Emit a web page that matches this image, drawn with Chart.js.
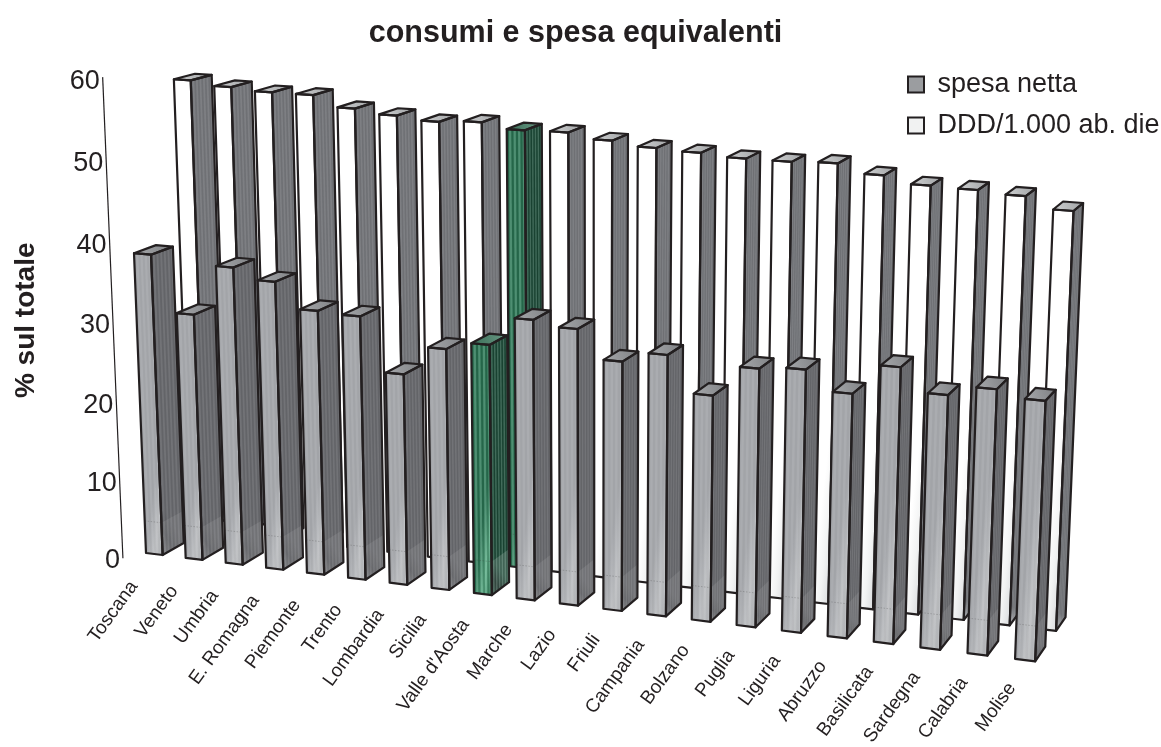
<!DOCTYPE html>
<html>
<head>
<meta charset="utf-8">
<title>consumi e spesa equivalenti</title>
<style>
  html, body { margin: 0; padding: 0; background: #fff; }
  canvas { display: block; }
</style>
<script src="https://cdn.jsdelivr.net/npm/chart.js@4/dist/chart.umd.min.js"></script>
</head>
<body>
<canvas id="chart" width="1161" height="747"></canvas>
<script>
const regions = ['Toscana', 'Veneto', 'Umbria', 'E. Romagna', 'Piemonte', 'Trento', 'Lombardia', 'Sicilia',
    "Valle d'Aosta", 'Marche', 'Lazio', 'Friuli', 'Campania', 'Bolzano', 'Puglia', 'Liguria', 'Abruzzo',
    'Basilicata', 'Sardegna', 'Calabria', 'Molise'];
const spesaNetta = [38.2, 31.2, 37.5, 36.2, 33.1, 32.9, 26.3, 29.9, 30.9, 34.4, 33.8, 30.4, 31.7, 27.4, 31.1,
    31.5, 29.2, 32.8, 30.1, 31.3, 30.5];
const dddAbDie = [58.0, 57.5, 57.2, 57.2, 55.9, 55.4, 55.0, 55.3, 54.7, 54.8, 54.2, 53.7, 53.5, 53.2, 53.2,
    53.4, 52.4, 51.6, 51.5, 51.2, 49.9];
const highlighted = ["Valle d'Aosta"];
const valueTicks = [0, 10, 20, 30, 40, 50, 60];

const INK = '#231f20';
const FONT = '"Liberation Sans", Arial, sans-serif';

// perspective: canvas position of the origin, plus strength and vanishing point of each 3D direction
const ORIGIN = [146, 553];
const ROW = { s: -0.091, vp: [-8535, -505] };
const HEIGHT = { s: -0.04098, vp: [594, 11745] };
const DEPTH = { s: 0.0138, vp: [1710, -321] };

const BAR_SPAN = 0.42;       // bar width, in category steps
const PLINTH_LEVEL = 4.2;    // value where the shading of the grey bars changes
const AXIS_AT = { u: -0.28, depth: -0.55 };

const palettes = {
    grey: {
        front: ['#a8aaae', '#c0c2c5', '#b4b6b9'], side: ['#7b7c80', '#5f6064', '#6a6b6f'],
        top: ['#a6a8ab', '#7f8184'], frontStripe: 0.03, sideStripe: 0.06, plinth: 0.09
    },
    white: {
        front: ['#ffffff', '#f2f3f3', '#dadcde'], side: ['#a8aaae', '#989a9e', '#76787c'],
        top: ['#cfd1d2', '#a0a2a4'], frontStripe: 0, sideStripe: 0.06, plinth: 0
    },
    green: {
        front: ['#2d7a58', '#5cb088', '#2f7f5a'], side: ['#17402f', '#0d2a1f', '#1e4f3b'],
        top: ['#3a6d57', '#6a9a85'], frontStripe: 0.16, sideStripe: 0.16, plinth: 0.16
    }
};

// maps category step, axis value and depth to a canvas point, going through the chart scales
function project(chart, u, value, depth) {
    const { x, y } = chart.scales;
    const su = ROW.s * x.getDecimalForPixel(x.getPixelForValue(u));
    const sv = HEIGHT.s * y.getDecimalForPixel(y.getPixelForValue(value));
    const sd = DEPTH.s * depth;
    const w = 1 + su + sv + sd;
    return {
        x: (ORIGIN[0] + su * ROW.vp[0] + sv * HEIGHT.vp[0] + sd * DEPTH.vp[0]) / w,
        y: (ORIGIN[1] + su * ROW.vp[1] + sv * HEIGHT.vp[1] + sd * DEPTH.vp[1]) / w
    };
}

function lerp(a, b, t) {
    return { x: a.x + (b.x - a.x) * t, y: a.y + (b.y - a.y) * t };
}

function tracePolygon(ctx, points) {
    ctx.beginPath();
    points.forEach((p, i) => i ? ctx.lineTo(p.x, p.y) : ctx.moveTo(p.x, p.y));
    ctx.closePath();
}

function ramp(ctx, from, to, stops) {
    const gradient = ctx.createLinearGradient(from.x, from.y, to.x, to.y);
    stops.forEach((c, i) => gradient.addColorStop(i / (stops.length - 1), c));
    return gradient;
}

// a, b = lower edge, c, d = upper edge
function paintFace(ctx, a, b, c, d, stops, stripe, strips) {
    tracePolygon(ctx, [a, b, c, d]);
    ctx.fillStyle = ramp(ctx, a, b, stops);
    ctx.fill();
    if (!stripe) return;
    for (let k = 0; k < strips; k++) {
        ctx.fillStyle = k % 2 ? `rgba(255,255,255,${stripe})` : `rgba(0,0,0,${stripe})`;
        tracePolygon(ctx, [lerp(a, b, k / strips), lerp(a, b, (k + 1) / strips),
            lerp(d, c, (k + 1) / strips), lerp(d, c, k / strips)]);
        ctx.fill();
    }
}

class Prism3dController extends Chart.BarController {
    draw() {
        const chart = this.chart;
        const ctx = chart.ctx;
        const dataset = this.getDataset();
        const d0 = dataset.rowDepth;
        const d1 = d0 + 1;
        ctx.save();
        ctx.lineJoin = 'round';
        this.getMeta().data.forEach((bar, i) => {
            const value = this.getParsed(i).y;
            const tones = palettes[highlighted.includes(regions[i]) ? 'green' : dataset.tone];
            const at = (u, v, depth) => project(chart, u, v, depth);
            const u1 = i + BAR_SPAN;
            const a = at(i, 0, d0), b = at(u1, 0, d0), c = at(u1, value, d0), d = at(i, value, d0);
            const b2 = at(u1, 0, d1), c2 = at(u1, value, d1), d2 = at(i, value, d1);

            paintFace(ctx, a, b, c, d, tones.front, tones.frontStripe, 8);
            paintFace(ctx, b, b2, c2, c, tones.side, tones.sideStripe, 12);
            tracePolygon(ctx, [d, c, c2, d2]);
            ctx.fillStyle = ramp(ctx, d, c2, tones.top);
            ctx.fill();

            if (tones.plinth) {
                const pa = at(i, PLINTH_LEVEL, d0), pb = at(u1, PLINTH_LEVEL, d0), pc = at(u1, PLINTH_LEVEL, d1);
                tracePolygon(ctx, [b, b2, pc, pb]);
                ctx.fillStyle = `rgba(255,255,255,${tones.plinth})`;
                ctx.fill();
                ctx.beginPath();
                ctx.moveTo(pa.x, pa.y);
                ctx.lineTo(pb.x, pb.y);
                ctx.setLineDash([1.5, 1.5]);
                ctx.lineWidth = 1;
                ctx.strokeStyle = 'rgba(60,60,60,0.25)';
                ctx.stroke();
                ctx.setLineDash([]);
            }

            ctx.strokeStyle = INK;
            ctx.lineWidth = 2.2;
            tracePolygon(ctx, [a, b, c, d]);
            ctx.stroke();
            tracePolygon(ctx, [b, b2, c2, c]);
            ctx.stroke();
            tracePolygon(ctx, [d, c, c2, d2]);
            ctx.stroke();
        });
        ctx.restore();
    }
}
Prism3dController.id = 'prism3d';
Prism3dController.defaults = Chart.BarController.defaults;
Prism3dController.overrides = Chart.BarController.overrides;
Chart.register(Prism3dController);

// slanted value axis and the rotated region names follow the perspective, so they are drawn here
const perspectiveAxes = {
    id: 'perspectiveAxes',
    afterLayout(chart) {
        // title sits slightly left of centre, legend is laid over the top right corner
        chart.titleBlock.left -= 19;
        chart.legend.left = 894;
        chart.legend.top = 57;
    },
    beforeDatasetsDraw(chart) {
        const ctx = chart.ctx;
        ctx.save();
        const bottom = project(chart, AXIS_AT.u, 0, AXIS_AT.depth);
        const top = project(chart, AXIS_AT.u, 60, AXIS_AT.depth);
        ctx.strokeStyle = INK;
        ctx.lineWidth = 1.2;
        ctx.beginPath();
        ctx.moveTo(bottom.x, bottom.y);
        ctx.lineTo(top.x, top.y);
        ctx.stroke();

        ctx.fillStyle = INK;
        ctx.font = '27px ' + FONT;
        ctx.textAlign = 'right';
        ctx.textBaseline = 'middle';
        valueTicks.forEach(tick => {
            const p = project(chart, AXIS_AT.u, tick, AXIS_AT.depth);
            ctx.fillText(String(tick), p.x - 3, p.y + 2 + tick / 30);
        });
        ctx.restore();
    },
    afterDatasetsDraw(chart) {
        const ctx = chart.ctx;
        ctx.save();
        ctx.fillStyle = INK;
        ctx.font = '19px ' + FONT;
        ctx.textAlign = 'right';
        ctx.textBaseline = 'middle';
        regions.forEach((name, i) => {
            const p = project(chart, i, 0, 0);
            const t = i / (regions.length - 1);
            ctx.save();
            ctx.translate(p.x - 12 + 9 * t, p.y + 30 - 4 * t);
            ctx.rotate(-54 * Math.PI / 180);
            ctx.fillText(name, 0, 0);
            ctx.restore();
        });
        ctx.restore();
    }
};

new Chart(document.getElementById('chart'), {
    type: 'prism3d',
    data: {
        labels: regions,
        datasets: [
            {
                label: 'spesa netta', data: spesaNetta, rowDepth: 0, tone: 'grey', clip: false,
                backgroundColor: '#9b9da0', borderColor: INK, borderWidth: 2
            },
            {
                label: 'DDD/1.000 ab. die', data: dddAbDie, rowDepth: 2.1, tone: 'white', clip: false,
                backgroundColor: '#f1f2f2', borderColor: INK, borderWidth: 2
            }
        ]
    },
    options: {
        responsive: false,
        animation: false,
        events: [],
        layout: { padding: { left: 9, bottom: 160, top: 0, right: 0 } },
        scales: {
            x: {
                type: 'category', offset: false,
                grid: { display: false }, border: { display: false }, ticks: { display: false }
            },
            y: {
                min: 0, max: 60,
                grid: { display: false }, border: { display: false }, ticks: { display: false },
                title: {
                    display: true, text: '% sul totale', color: INK, padding: 0,
                    font: { family: FONT, size: 28, weight: 'bold' }
                }
            }
        },
        plugins: {
            title: {
                display: true, text: 'consumi e spesa equivalenti', color: INK,
                font: { family: FONT, size: 30.5, weight: 'bold' },
                padding: { top: 15, bottom: 10 }
            },
            legend: {
                position: 'right', align: 'start',
                labels: {
                    color: INK, boxWidth: 16, boxHeight: 16, padding: 14,
                    font: { family: FONT, size: 27 }
                }
            },
            tooltip: { enabled: false }
        }
    },
    plugins: [perspectiveAxes]
});
</script>
</body>
</html>
